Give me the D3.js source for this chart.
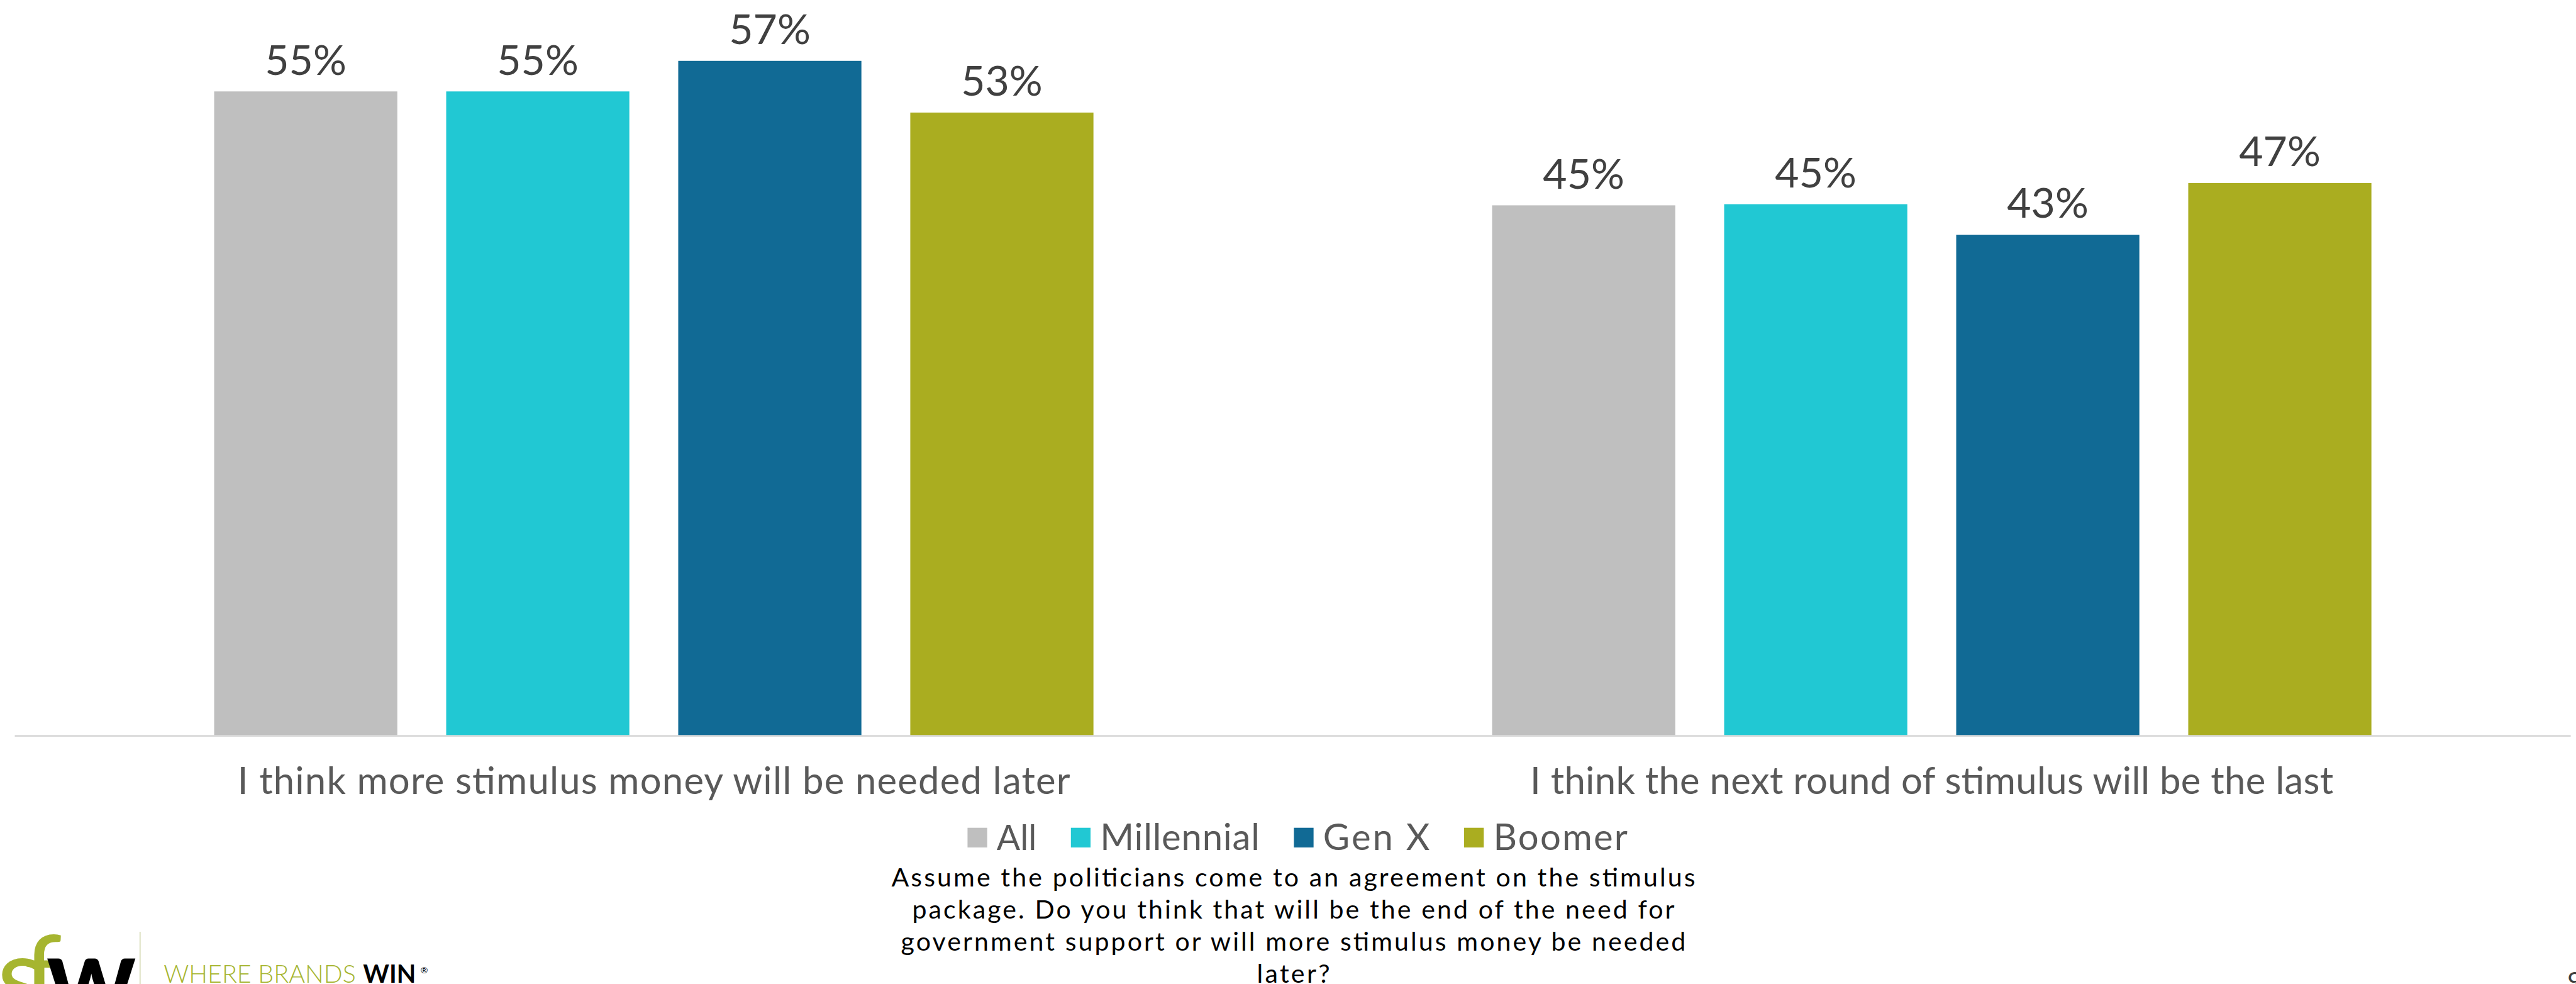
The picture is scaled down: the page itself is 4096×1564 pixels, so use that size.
<!DOCTYPE html>
<html>
<head>
<meta charset="utf-8">
<script src="https://cdn.jsdelivr.net/npm/d3@7"></script>
<style>
  html, body { margin: 0; padding: 0; background: #ffffff; overflow: hidden; }
  svg { display: block; }
  text { font-family: "Lato", "Open Sans", "DejaVu Sans", sans-serif; }
</style>
</head>
<body>
<script>
// ---------- data ----------
const categories = [
  "I think more stimulus money will be needed later",
  "I think the next round of stimulus will be the last"
];
const seriesNames = ["All", "Millennial", "Gen X", "Boomer"];
const allValues = [54.8, 45.1];
const millennialValues = [54.8, 45.2];
const genXValues = [57.4, 42.6];
const boomerValues = [53.0, 47.0];
const seriesColors = ["#BFBFBF", "#21C8D3", "#116A95", "#AAAD20"];
const questionLines = [
  "Assume the politicians come to an agreement on the stimulus",
  "package. Do you think that will be the end of the need for",
  "government support or will more stimulus money be needed",
  "later?"
];
const pageNumber = "9";

const seriesValues = [allValues, millennialValues, genXValues, boomerValues];

// ---------- layout (reference pixel space, scaled by viewBox) ----------
const W = 4585, H = 1751;
const svg = d3.select("body").append("svg")
  .attr("width", 4096).attr("height", 1564)
  .attr("viewBox", `0 0 ${W} ${H}`);

const plotLeft = 26, plotRight = 4576, baseY = 1308;
const x0 = d3.scaleBand().domain(categories).range([plotLeft, plotRight]).padding(0);
const x1 = d3.scaleBand().domain(seriesNames).range([0, x0.bandwidth()])
  .paddingInner(0.2107).paddingOuter(0.859);
const y = d3.scaleLinear().domain([0, 60]).range([baseY, baseY - 60 * 20.9]);
const color = d3.scaleOrdinal().domain(seriesNames).range(seriesColors);
const fmt = v => d3.format(".0f")(v) + "%";

// helper: match a target width (shrink font if too wide, widen spacing if too narrow)
function fitWidth(sel, target) {
  sel.each(function() {
    const node = d3.select(this);
    let w = this.getComputedTextLength();
    if (w > target) {
      const fs = parseFloat(node.attr("font-size"));
      node.attr("font-size", fs * target / w);
      w = this.getComputedTextLength();
    }
    if (w > 0 && target - w > 2) {
      node.attr("textLength", target).attr("lengthAdjust", "spacing");
    }
  });
}
function fitSize(sel, target) {
  sel.each(function() {
    const node = d3.select(this);
    const w = this.getComputedTextLength();
    const fs = parseFloat(node.attr("font-size"));
    if (w > 0) node.attr("font-size", fs * target / w);
  });
}

// baseline
svg.append("line")
  .attr("x1", plotLeft).attr("x2", plotRight)
  .attr("y1", baseY + 1.5).attr("y2", baseY + 1.5)
  .attr("stroke", "#D9D9D9").attr("stroke-width", 3);

// bars
const groups = svg.selectAll("g.cat").data(categories).join("g")
  .attr("class", "cat")
  .attr("transform", d => `translate(${x0(d)},0)`);

groups.each(function(cat, ci) {
  const g = d3.select(this);
  const rows = seriesNames.map((s, si) => ({ s, v: seriesValues[si][ci] }));
  g.selectAll("rect").data(rows).join("rect")
    .attr("x", d => x1(d.s))
    .attr("y", d => y(d.v))
    .attr("width", x1.bandwidth())
    .attr("height", d => y(0) - y(d.v))
    .attr("fill", d => color(d.s));
  g.selectAll("text.val").data(rows).join("text")
    .attr("class", "val")
    .attr("x", d => x1(d.s) + x1.bandwidth() / 2)
    .attr("y", d => y(d.v) - 30)
    .attr("text-anchor", "middle")
    .attr("font-size", 74)
    .attr("fill", "#404040")
    .text(d => fmt(d.v));
});

// category labels
const catWidths = [1482, 1430];
svg.selectAll("text.cat").data(categories).join("text")
  .attr("class", "cat")
  .attr("x", d => x0(d) + x0.bandwidth() / 2)
  .attr("y", 1413)
  .attr("text-anchor", "middle")
  .attr("font-size", 67)
  .attr("fill", "#595959")
  .text(d => d)
  .each(function(d, i) { fitWidth(d3.select(this), catWidths[i]); });

// legend
const legend = svg.append("g");
const legendTextWidths = [71, 284, 190, 239];
let lx = 1722;
seriesNames.forEach((s, i) => {
  legend.append("rect").attr("x", lx).attr("y", 1473)
    .attr("width", 35).attr("height", 35).attr("fill", color(s));
  const t = legend.append("text").attr("x", lx + 52).attr("y", 1512)
    .attr("font-size", 65).attr("fill", "#595959").text(s);
  fitWidth(t, legendTextWidths[i]);
  lx += 52 + legendTextWidths[i] + 61;
});

// question text
const qWidths = [1431, 1357, 1397, 130];
svg.selectAll("text.q").data(questionLines).join("text")
  .attr("class", "q")
  .attr("x", 2302)
  .attr("y", (d, i) => 1578 + i * 57)
  .attr("text-anchor", "middle")
  .attr("font-size", 46)
  .attr("fill", "#000000")
  .text(d => d)
  .each(function(d, i) { fitWidth(d3.select(this), qWidths[i]); });

// logo
const logo = svg.append("g");
logo.append("text").attr("x", -6).attr("y", 1808).attr("font-size", 200)
  .attr("fill", "#A6B530").text("s");
logo.append("text").attr("x", 40).attr("y", 1808).attr("font-size", 200)
  .attr("fill", "#A6B530").text("f");
logo.append("text").attr("x", 82).attr("y", 1808).attr("font-size", 200)
  .attr("font-weight", "bold").attr("fill", "#000000").text("w");
logo.append("line").attr("x1", 249).attr("x2", 249).attr("y1", 1658).attr("y2", 1751)
  .attr("stroke", "#C5CC95").attr("stroke-width", 1.5);
const wb = logo.append("text").attr("x", 291).attr("font-size", 62)
  .attr("font-weight", 300).attr("fill", "#A6B530").text("WHERE BRANDS");
fitSize(wb, 342);
wb.attr("y", 1717 + 0.72 * parseFloat(wb.attr("font-size")));
const win = logo.append("text").attr("x", 646).attr("font-size", 62)
  .attr("font-weight", "bold").attr("fill", "#000000").text("WIN");
fitSize(win, 94);
win.attr("y", 1717 + 0.72 * parseFloat(win.attr("font-size")));
logo.append("text").attr("x", 748).attr("y", 1732).attr("font-size", 16)
  .attr("fill", "#000000").text("®");

// page number
svg.append("text").attr("x", 4570).attr("y", 1762).attr("font-size", 46)
  .attr("fill", "#404040").text(pageNumber);
</script>
</body>
</html>
